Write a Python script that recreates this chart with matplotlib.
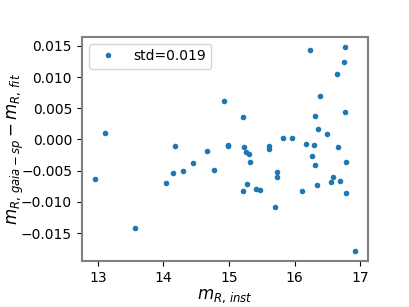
import matplotlib
matplotlib.use("Agg")
import matplotlib.pyplot as plt

# instrumental magnitude vs residual (gaia-sp minus fit)
m_inst = [12.954, 13.111, 13.564, 14.046, 14.178, 14.152, 14.305, 14.448, 14.662, 14.773,
          14.925, 14.991, 14.991, 15.220, 15.235, 15.256, 15.299, 15.325, 15.280, 15.218,
          15.418, 15.479, 15.611, 15.607, 15.707, 15.738, 15.738, 15.825, 15.966, 16.119,
          16.180, 16.236, 16.271, 16.308, 16.297, 16.312, 16.348, 16.358, 16.393, 16.495,
          16.561, 16.582, 16.652, 16.668, 16.698, 16.755, 16.770, 16.770, 16.785, 16.780,
          16.922]
resid = [-0.00631, 0.00098, -0.0142, -0.00704, -0.00101, -0.00534, -0.00511, -0.00373, -0.00186, -0.00486,
         0.0062, -0.00082, -0.00101, 0.00359, -0.00117, -0.00207, -0.00229, -0.00357, -0.0072, -0.00827,
         -0.0080, -0.00811, -0.00106, -0.00154, -0.01083, -0.00518, -0.00607, 0.00027, 0.00027, -0.00822,
         -0.00074, 0.01433, -0.00266, 0.00375, -0.0009, -0.0041, -0.00726, 0.00162, 0.0070, 0.00082,
         -0.00683, -0.00607, 0.01053, -0.00117, -0.00671, 0.0124, 0.01481, 0.00434, -0.00357, -0.00859,
         -0.01784]
std_label = "std=0.019"

fig, ax = plt.subplots(figsize=(4.09, 3.07), dpi=100)
plt.subplots_adjust(left=0.2, bottom=0.15)

ax.plot(m_inst, resid, ".", label=std_label)

ax.set_xlabel(r"$m_{R,\, inst}$", fontsize=12, labelpad=2)
ax.set_ylabel(r"$m_{R,\, gaia-sp} - m_{R,\, fit}$", fontsize=12)
ax.yaxis.set_label_coords(-0.195, 0.5)
ax.set_xticks([13, 14, 15, 16, 17])
ax.legend(loc="upper left")

for s in ax.spines.values():
    s.set_color("#808080")
    s.set_linewidth(1.5)

plt.savefig("out.png")
